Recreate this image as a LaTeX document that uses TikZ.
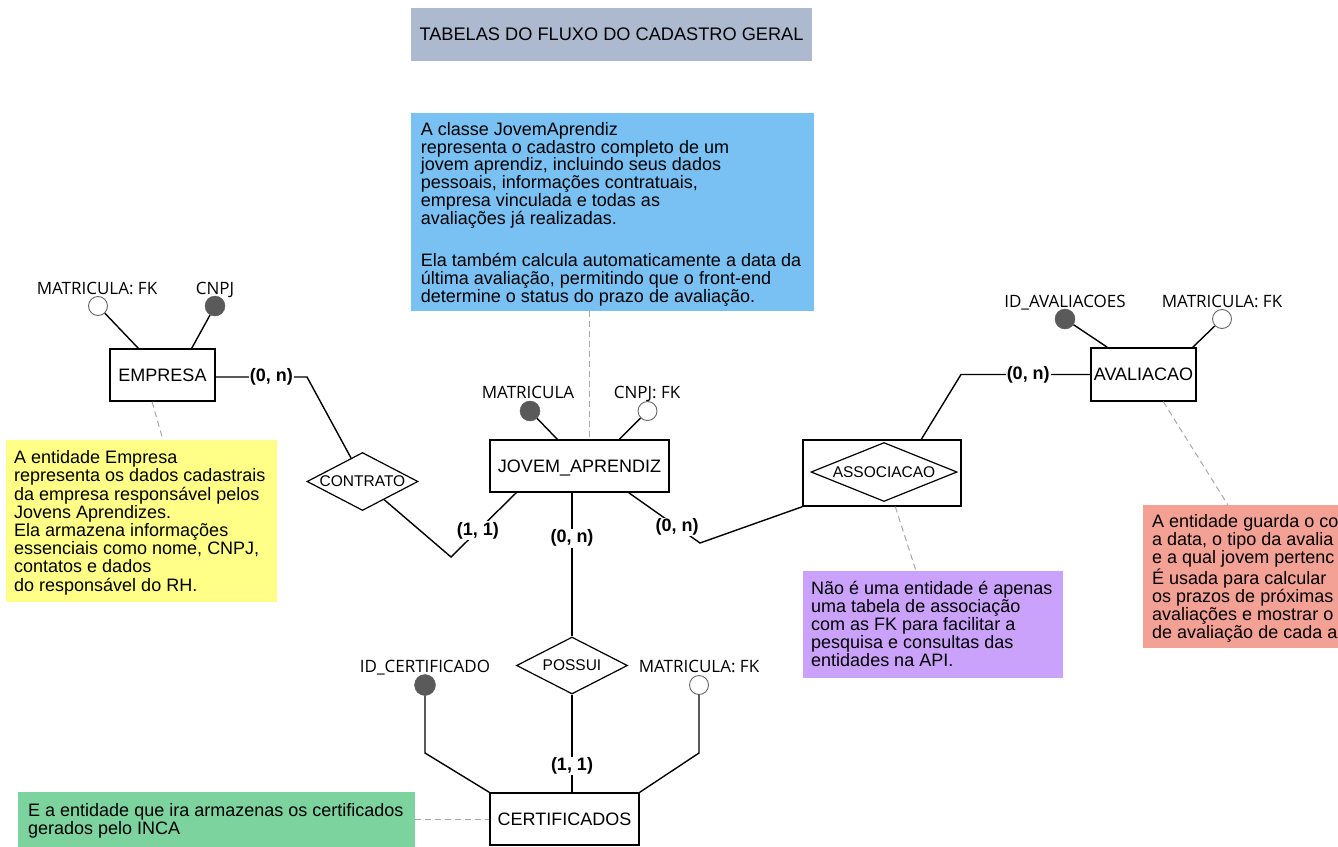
\documentclass[tikz,border=0pt]{standalone}
\usepackage{fontspec}
\setmainfont{Liberation Sans}
\newfontfamily\attrfont{Open Sans}
\usetikzlibrary{shapes.geometric}
\definecolor{titlecol}{HTML}{ADB9CF}
\definecolor{bluecol}{HTML}{79C0F3}
\definecolor{yellowcol}{HTML}{FFFF88}
\definecolor{purplecol}{HTML}{CBA2FB}
\definecolor{greencol}{HTML}{7DD39D}
\definecolor{salmoncol}{HTML}{F4A195}
\definecolor{keygray}{HTML}{5A5A5A}
\definecolor{circgray}{HTML}{666666}
\definecolor{dashgray}{HTML}{A8A8A8}
\begin{document}
\begin{tikzpicture}[x=1pt,y=-1pt,
  entity/.style={draw=black, line width=1.4pt, fill=white, inner sep=0pt,
    font=\fontsize{18}{18}\selectfont, text height=12.9pt, text depth=0pt},
  rel/.style={draw=black, diamond, aspect=2, inner sep=0pt, line width=1.2pt, fill=white,
    font=\fontsize{15.5}{15.5}\selectfont},
  attr/.style={font=\attrfont\fontsize{17}{17}\selectfont, anchor=base, inner sep=0pt},
  keyf/.style={circle, fill=keygray, draw=keygray, inner sep=0pt, minimum size=20pt},
  keyo/.style={circle, fill=white, draw=circgray, line width=0.9pt, inner sep=0pt, minimum size=19pt},
  conn/.style={line width=1.4pt, draw=black},
  card/.style={fill=white, inner sep=1pt, font=\bfseries\fontsize{18}{18}\selectfont},
  dashln/.style={draw=dashgray, line width=1pt, dash pattern=on 6pt off 4pt},
  notebox/.style={draw=none, inner sep=0pt, anchor=north west},
  notetext/.style={anchor=north west, inner sep=0pt, align=left, font=\fontsize{18}{18}\selectfont}]
\useasboundingbox (0,0) rectangle (1338,846);
\fill[white] (0,0) rectangle (1338,846);

% title
\node[fill=titlecol, minimum width=401pt, minimum height=53pt, inner sep=0pt,
  font=\fontsize{18.2}{18.2}\selectfont] (title) at (611.5,34.5) {TABELAS DO FLUXO DO CADASTRO GERAL};

% note boxes
\node[notebox, fill=bluecol, minimum width=403pt, minimum height=198pt] (bluebox) at (411,113) {};
\node[notetext, font=\fontsize{18}{17.8}\selectfont] (bluetext) at (420.7,122) {A classe JovemAprendiz\\
representa o cadastro completo de um\\
jovem aprendiz, incluindo seus dados\\
pessoais, informações contratuais,\\
empresa vinculada e todas as\\
avaliações já realizadas.\\[24.5pt]
Ela também calcula automaticamente a data da\\
última avaliação, permitindo que o front-end\\
determine o status do prazo de avaliação.};

\node[notebox, fill=yellowcol, minimum width=271pt, minimum height=162pt] (yellowbox) at (6,440) {};
\node[notetext, font=\fontsize{18}{18.2}\selectfont] (yellowtext) at (14,450.5) {A entidade Empresa\\
representa os dados cadastrais\\
da empresa responsável pelos\\
Jovens Aprendizes.\\
Ela armazena informações\\
essenciais como nome, CNPJ,\\
contatos e dados\\
do responsável do RH.};

\node[notebox, fill=purplecol, minimum width=260pt, minimum height=107pt] (purplebox) at (803,571) {};
\node[notetext] (purpletext) at (811,581) {Não é uma entidade é apenas\\
uma tabela de associação\\
com as FK para facilitar a\\
pesquisa e consultas das\\
entidades na API.};

\node[notebox, fill=salmoncol, minimum width=210pt, minimum height=143pt] (salmonbox) at (1143,505) {};
\node[notetext] (salmontext) at (1152,514.5) {A entidade guarda o co\\
a data, o tipo da avalia\\
e a qual jovem pertenc\\
É usada para calcular\\
os prazos de próximas\\
avaliações e mostrar o\\
de avaliação de cada a};

\node[notebox, fill=greencol, minimum width=397pt, minimum height=56pt] (greenbox) at (18,792) {};
\node[notetext, font=\fontsize{18}{18.2}\selectfont] (greentext) at (28,803) {E a entidade que ira armazenas os certificados\\
gerados pelo INCA};

% entities
\node[entity, minimum width=105pt, minimum height=52pt] (empresa) at (162.5,375) {EMPRESA};
\node[entity, minimum width=179pt, minimum height=52pt] (jovem) at (579.5,466) {JOVEM\_APRENDIZ};
\node[entity, minimum width=105pt, minimum height=53pt] (aval) at (1143.5,374.5) {AVALIACAO};
\node[entity, minimum width=149pt, minimum height=52pt] (cert) at (564.5,819) {CERTIFICADOS};
\node[entity, minimum width=158pt, minimum height=66pt] (assocbox) at (882,473) {};

% relationships
\node[rel, minimum width=111pt, minimum height=58pt] (contrato) at (362.5,481.5) {CONTRATO};
\node[rel, minimum width=111pt, minimum height=57pt] (possui) at (572,665.5) {POSSUI};
\node[rel, aspect=2.5, minimum width=146pt, minimum height=59pt] (assoc) at (884,472) {ASSOCIACAO};

% attributes
\node[attr] (empmat) at (97,294) {MATRICULA: FK};
\node[attr] (empcnpj) at (215,294) {CNPJ};
\node[keyo] (empmatc) at (98,306) {};
\node[keyf] (empcnpjc) at (215,306) {};

\node[attr] (jovmat) at (528,398.5) {MATRICULA};
\node[attr] (jovcnpj) at (647,398.5) {CNPJ: FK};
\node[keyf] (jovmatc) at (530,411) {};
\node[keyo] (jovcnpjc) at (647.5,411) {};

\node[attr] (avalid) at (1065,307.5) {ID\_AVALIACOES};
\node[attr] (avalmat) at (1222,307.5) {MATRICULA: FK};
\node[keyf] (avalidc) at (1065,319) {};
\node[keyo] (avalmatc) at (1222,319) {};

\node[attr] (certid) at (425,672.7) {ID\_CERTIFICADO};
\node[attr] (certmat) at (699,672.7) {MATRICULA: FK};
\node[keyf, minimum size=21pt] (certidc) at (425,685) {};
\node[keyo] (certmatc) at (699,685) {};

% bend points
\coordinate (b1) at (307,377);
\coordinate (b2) at (451,557);
\coordinate (b3) at (700,543);
\coordinate (b4) at (961,374.5);
\coordinate (b5) at (425,753);
\coordinate (b6) at (699,753);

% dashed note links
\draw[dashln] ([xshift=-10.5pt]empresa.south) -- ([xshift=157pt]yellowbox.north west);
\draw[dashln] ([xshift=178pt]bluebox.south west) -- ([xshift=9.5pt]jovem.north);
\draw[dashln] ([xshift=93pt]assocbox.south west) -- ([xshift=113pt]purplebox.north west);
\draw[dashln] ([xshift=73pt]aval.south west) -- ([xshift=85pt]salmonbox.north west);
\draw[dashln] (greenbox.east |- cert.west) -- (cert.west);

% attribute links
\draw[conn] (empmatc) -- ([xshift=29pt]empresa.north west);
\draw[conn] (empcnpjc) -- ([xshift=-24pt]empresa.north east);
\draw[conn] (jovmatc) -- ([xshift=68pt]jovem.north west);
\draw[conn] (jovcnpjc) -- ([xshift=130pt]jovem.north west);
\draw[conn] (avalidc) -- ([xshift=17pt]aval.north west);
\draw[conn] (avalmatc) -- ([xshift=-4pt]aval.north east);
\draw[conn] (certidc) -- (b5) -- (cert.north west);
\draw[conn] (certmatc) -- (b6) -- (cert.north east);

% relationship links
\draw[conn] ([yshift=-2pt]empresa.east) -- node[card, pos=0.61] {(0, n)} (b1) -- (contrato.116);
\draw[conn] ([xshift=27pt]jovem.south west) -- node[card, pos=0.59] {(1, 1)} (b2) -- (contrato.-40);
\draw[conn] ([xshift=-7.5pt]jovem.south) -- node[card, pos=0.317] {(0, n)} (possui.north);
\draw[conn] (possui.south) -- node[card, pos=0.73] {(1, 1)} ([xshift=7.5pt]cert.north);
\draw[conn] ([xshift=-41pt]jovem.south east) -- node[card, pos=0.68] {(0, n)} (b3) -- (assocbox.south west);
\draw[conn] (aval.west) -- node[card, pos=0.48] {(0, n)} (b4) -- ([xshift=119pt]assocbox.north west);
\end{tikzpicture}
\end{document}
